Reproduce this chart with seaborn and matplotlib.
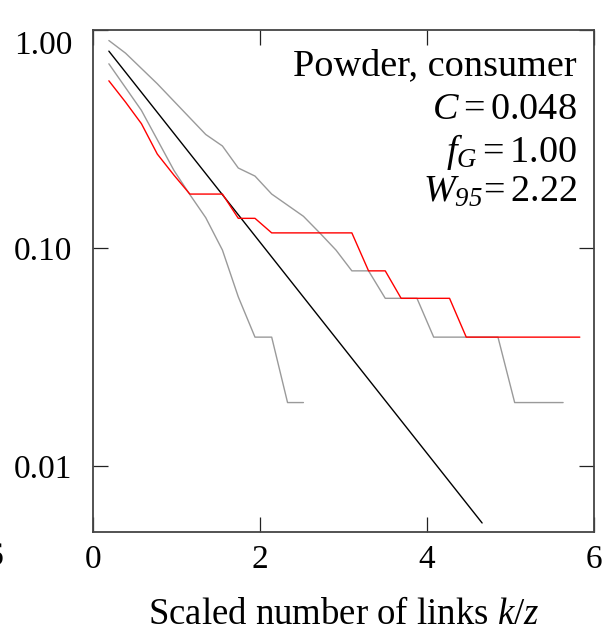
import matplotlib
matplotlib.use("Agg")
import matplotlib.pyplot as plt
import seaborn as sns
import pandas as pd
from matplotlib.ticker import FixedLocator, FixedFormatter, NullLocator

# ---- data ----
gray_hi_x = [0.19, 0.39, 0.77, 1.35, 1.55, 1.74, 1.94, 2.14, 2.52, 2.72, 2.91, 3.10, 3.30, 3.50, 3.88, 4.08, 4.85, 5.05, 5.63]
gray_hi_y = [0.895, 0.783, 0.567, 0.332, 0.294, 0.233, 0.214, 0.177, 0.140, 0.117, 0.098, 0.0787, 0.0787, 0.0589, 0.0589, 0.0391, 0.0391, 0.0196, 0.0196]

gray_lo_x = [0.19, 0.58, 0.97, 1.16, 1.35, 1.55, 1.74, 1.94, 2.14, 2.33, 2.52]
gray_lo_y = [0.70, 0.428, 0.227, 0.176, 0.138, 0.098, 0.0598, 0.0391, 0.0391, 0.0196, 0.0196]

red_x = [0.19, 0.39, 0.58, 0.77, 0.97, 1.16, 1.55, 1.74, 1.94, 2.14, 3.10, 3.30, 3.50, 3.69, 4.27, 4.47, 5.83]
red_y = [0.585, 0.467, 0.372, 0.270, 0.216, 0.177, 0.177, 0.137, 0.137, 0.1175, 0.1175, 0.0787, 0.0787, 0.0589, 0.0589, 0.0391, 0.0391]

fit_x = [0.19, 4.66]
fit_y = [0.80, 0.0055]

x_ticks = [0, 2, 4, 6]
x_tick_labels = ["0", "2", "4", "6"]
y_ticks = [0.01, 0.1, 1.0]
y_tick_labels = ["0.01", "0.10", "1.00"]

annot_lines = ["Powder, consumer", r"$C = 0.048$", r"$f_G = 1.00$", r"$W_{\mathsf{95}}\!= 2.22$"]

# ---- style ----
sns.set_style("ticks")
plt.rcParams["font.family"] = ["Liberation Serif", "DejaVu Serif"]
plt.rcParams["mathtext.fontset"] = "custom"
plt.rcParams["mathtext.rm"] = "Liberation Serif"
plt.rcParams["mathtext.it"] = "Liberation Serif:italic"
plt.rcParams["mathtext.sf"] = "Liberation Serif:italic"
plt.rcParams["mathtext.bf"] = "Liberation Serif:bold"
for k in ["text.color", "axes.labelcolor", "xtick.color", "ytick.color"]:
    plt.rcParams[k] = "black"

W, H = 603, 634
fig = plt.figure(figsize=(W / 100, H / 100), dpi=100)
ax = fig.add_axes([93 / W, 1 - 532 / H, (594 - 93) / W, (532 - 30) / H])

frames = []
for name, xs, ys in [("hi", gray_hi_x, gray_hi_y), ("lo", gray_lo_x, gray_lo_y),
                     ("fit", fit_x, fit_y), ("red", red_x, red_y)]:
    frames.append(pd.DataFrame({"x": xs, "y": ys, "s": name}))
df = pd.concat(frames, ignore_index=True)

palette = {"hi": "#9a9a9a", "lo": "#9a9a9a", "fit": "#000000", "red": "#ff0000"}
sns.lineplot(data=df, x="x", y="y", hue="s", units="s", palette=palette,
             estimator=None, sort=False, legend=False, linewidth=1.0, ax=ax)

ax.set_yscale("log")
ax.set_xlim(0, 6)
ax.set_ylim(0.005, 1.0)
ax.xaxis.set_major_locator(FixedLocator(x_ticks))
ax.xaxis.set_major_formatter(FixedFormatter(x_tick_labels))
ax.yaxis.set_major_locator(FixedLocator(y_ticks))
ax.yaxis.set_major_formatter(FixedFormatter(y_tick_labels))
ax.yaxis.set_minor_locator(NullLocator())
ax.xaxis.set_minor_locator(NullLocator())

ax.tick_params(axis="both", which="major", direction="in", length=11, width=0.9,
               color="#222222", labelcolor="black", top=True, right=True, labelsize=24)
ax.tick_params(axis="x", pad=9)
ax.tick_params(axis="y", pad=15)
for sp in ax.spines.values():
    sp.set_color("#444444")
    sp.set_linewidth(1.3)

ax.set_xlabel(r"Scaled number of links $k/z$", fontsize=26.5, labelpad=16, color="black")
ax.set_ylabel("")

tx = (577 - 93) / (594 - 93)
for txt, base in zip(annot_lines, [75, 119, 162, 202]):
    ax.text(tx, 1 - (base - 30) / (532 - 30), txt, transform=ax.transAxes,
            ha="right", va="baseline", fontsize=27.5, color="black")

# fragment of neighbouring panel's tick label at left edge
fig.text(3 / W, 1 - 557 / H, "6", ha="right", va="center", fontsize=24, color="black")

fig.canvas.draw()
for t in ax.yaxis.get_major_ticks():
    if t.label1.get_text() == "1.00":
        t.label1.set_va("top")

fig.savefig("out.png", dpi=100)
